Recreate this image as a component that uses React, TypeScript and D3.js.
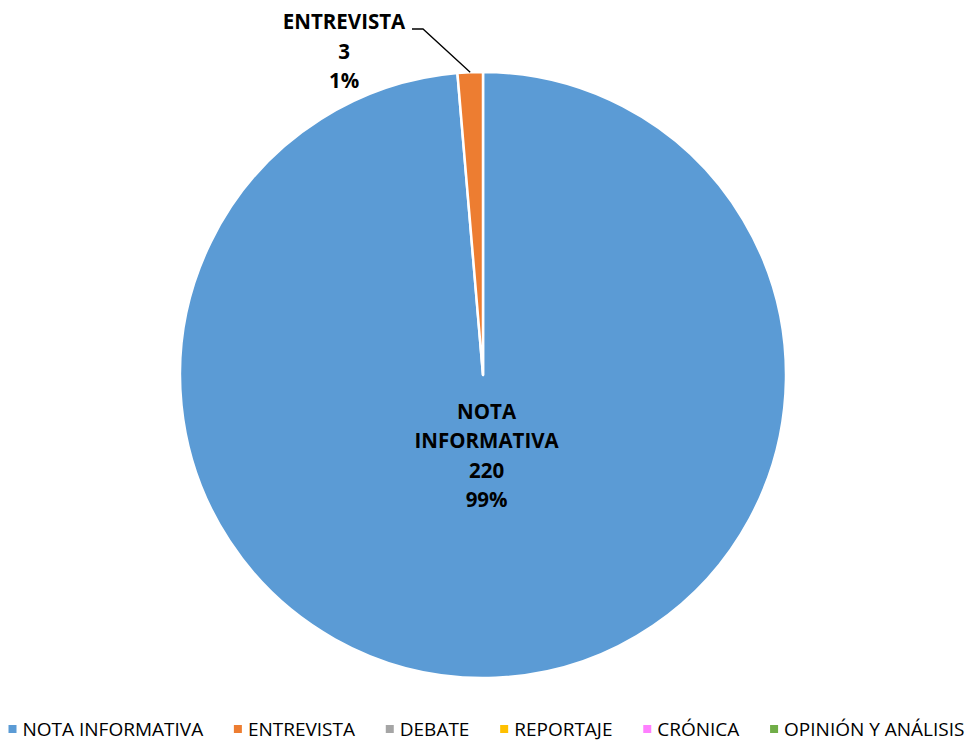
import { useEffect, useRef } from 'react';
import * as d3 from 'd3';

// Datos: tipo de género periodístico
const CATEGORIES = ['NOTA INFORMATIVA', 'ENTREVISTA', 'DEBATE', 'REPORTAJE', 'CRÓNICA', 'OPINIÓN Y ANÁLISIS'];
const VALUES = [220, 3, 0, 0, 0, 0];
const COLORS = ['#5B9BD5', '#ED7D31', '#A5A5A5', '#FFC000', '#FF80FF', '#70AD47'];

const W = 973;
const H = 743;
const FONT = "'Open Sans', 'Noto Sans', sans-serif";

export default function App() {
  const svgRef = useRef<SVGSVGElement>(null);

  useEffect(() => {
    const svg = d3.select(svgRef.current);
    svg.selectAll('*').remove();

    const cx = 483, cy = 375, r = 303;
    const total = d3.sum(VALUES);
    const rows = CATEGORIES.map((c, i) => ({ name: c, value: VALUES[i], color: COLORS[i] }));

    const pie = d3.pie<any>().sort(null).value(d => d.value);
    const arcs = pie(rows);
    const arc = d3.arc<any>().innerRadius(0).outerRadius(r);

    const g = svg.append('g').attr('transform', `translate(${cx},${cy})`);
    g.selectAll('path')
      .data(arcs.filter(a => a.data.value > 0))
      .join('path')
      .attr('d', arc)
      .attr('fill', d => d.data.color)
      .attr('stroke', '#fff')
      .attr('stroke-width', 2.5)
      .attr('stroke-linejoin', 'round');

    const pct = (v: number) => `${Math.round((v / total) * 100)}%`;

    // etiqueta interior (NOTA INFORMATIVA)
    const big = arcs[0];
    const labelArc = d3.arc<any>().innerRadius(85).outerRadius(85);
    const [lx, ly] = labelArc.centroid(big);
    const bigLines = ['NOTA', 'INFORMATIVA', String(big.data.value), pct(big.data.value)];
    const lh = 29.5;
    const t1 = g.append('text')
      .attr('text-anchor', 'middle')
      .attr('font-family', FONT)
      .attr('font-weight', 700)
      .attr('font-size', 20.5)
      .attr('fill', '#000');
    bigLines.forEach((s, i) => {
      t1.append('tspan')
        .attr('x', lx)
        .attr('y', ly - 1.5 * lh + i * lh + 3)
        .text(s);
    });

    // etiqueta exterior (ENTREVISTA) con línea guía
    const small = arcs[1];
    const mid = (small.startAngle + small.endAngle) / 2;
    const px = Math.sin(mid) * r, py = -Math.cos(mid) * r;
    const ex = 412 - cx, ey = 29 - cy;
    g.append('polyline')
      .attr('points', `${px},${py} ${ex + 11},${ey} ${ex},${ey}`)
      .attr('fill', 'none')
      .attr('stroke', '#000')
      .attr('stroke-width', 1.3);
    const smallLines = [small.data.name, String(small.data.value), pct(small.data.value)];
    const t2 = g.append('text')
      .attr('text-anchor', 'middle')
      .attr('font-family', FONT)
      .attr('font-weight', 700)
      .attr('font-size', 20.5)
      .attr('fill', '#000');
    smallLines.forEach((s, i) => {
      t2.append('tspan')
        .attr('x', 344 - cx)
        .attr('y', 29 - cy + i * lh)
        .text(s);
    });

    // leyenda
    const leg = svg.append('g');
    const items = leg.selectAll('g').data(rows).join('g');
    items.append('rect')
      .attr('width', 8).attr('height', 8)
      .attr('y', -11)
      .attr('fill', d => d.color);
    const texts = items.append('text')
      .attr('x', 14)
      .attr('font-family', FONT)
      .attr('font-size', 19)
      .attr('fill', '#000')
      .text(d => d.name);
    const widths: number[] = [];
    texts.each(function () { widths.push((this as SVGTextElement).getComputedTextLength()); });
    const left = 14, right = 970;
    const gap = Math.max(6, (right - left - d3.sum(widths) - widths.length * 14) / (widths.length - 1));
    const totalW = d3.sum(widths) + widths.length * 14 + (widths.length - 1) * gap;
    let x = (W - totalW) / 2;
    items.attr('transform', (_, i) => {
      const t = `translate(${x},736)`;
      x += 14 + widths[i] + gap;
      return t;
    });
  }, []);

  return (
    <svg ref={svgRef} width={W} height={H}
      style={{ position: 'absolute', left: 0, top: 0, background: '#fff', display: 'block' }} />
  );
}
